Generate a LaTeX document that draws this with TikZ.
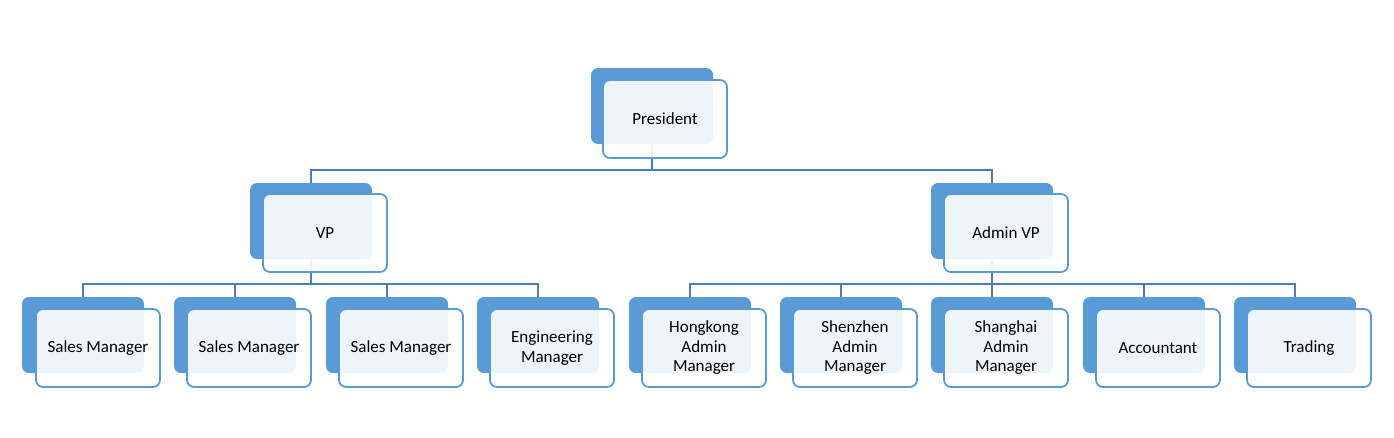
\documentclass[tikz,border=0pt]{standalone}
\usepackage{fontspec}
\setmainfont{Carlito}
\usepackage{tikz}
\usetikzlibrary{positioning}
\definecolor{boxblue}{HTML}{5B9BD5}
\definecolor{lineblue}{HTML}{4A7EBB}

\begin{document}
\begin{tikzpicture}
  [x=1pt,y=-1pt,
   backbox/.style={rectangle,rounded corners=7pt,fill=boxblue,minimum width=122pt,minimum height=76pt,inner sep=0pt},
   frontbox/.style={rectangle,rounded corners=7pt,draw=boxblue,line width=1.8pt,fill=white,fill opacity=0.9,text opacity=1,
                    minimum width=124pt,minimum height=78pt,inner sep=0pt,align=center,font=\fontsize{17}{19.5}\selectfont},
   conn/.style={draw=lineblue,line width=1.6pt}]
  \useasboundingbox (0,0) rectangle (1394,437);

  % back boxes
  \node[backbox] (pres) at (652,106) {};
  \node[backbox] (vp)   at (311,221) {};
  \node[backbox] (avp)  at (992,221) {};
  \node[backbox] (sm1)  at (83,335)  {};
  \node[backbox] (sm2)  at (235,335) {};
  \node[backbox] (sm3)  at (387,335) {};
  \node[backbox] (eng)  at (538,335) {};
  \node[backbox] (hk)   at (690,335) {};
  \node[backbox] (sz)   at (841,335) {};
  \node[backbox] (sh)   at (992,335) {};
  \node[backbox] (acc)  at (1144,335) {};
  \node[backbox] (trd)  at (1295,335) {};

  % connectors
  \draw[conn] (pres.south) -- ++(0,26) -| (vp.north);
  \draw[conn] (pres.south) -- ++(0,26) -| (avp.north);
  \draw[conn] (vp.south) -- ++(0,25) -| (sm1.north);
  \draw[conn] (vp.south) -- ++(0,25) -| (sm2.north);
  \draw[conn] (vp.south) -- ++(0,25) -| (sm3.north);
  \draw[conn] (vp.south) -- ++(0,25) -| (eng.north);
  \draw[conn] (avp.south) -- ++(0,25) -| (hk.north);
  \draw[conn] (avp.south) -- ++(0,25) -| (sz.north);
  \draw[conn] (avp.south) -- ++(0,25) -| (sh.north);
  \draw[conn] (avp.south) -- ++(0,25) -| (acc.north);
  \draw[conn] (avp.south) -- ++(0,25) -| (trd.north);

  % front boxes
  \node[frontbox] (presF) at (665,119)  {President};
  \node[frontbox] (vpF)   at (325,233)  {VP};
  \node[frontbox] (avpF)  at (1006,233) {Admin VP};
  \node[frontbox] (sm1F)  at (98,348)   {Sales Manager};
  \node[frontbox] (sm2F)  at (249,348)  {Sales Manager};
  \node[frontbox] (sm3F)  at (401,348)  {Sales Manager};
  \node[frontbox] (engF)  at (552,348)  {Engineering\\Manager};
  \node[frontbox] (hkF)   at (704,348)  {Hongkong\\Admin\\Manager};
  \node[frontbox] (szF)   at (855,348)  {Shenzhen\\Admin\\Manager};
  \node[frontbox] (shF)   at (1006,348) {Shanghai\\Admin\\Manager};
  \node[frontbox] (accF)  at (1158,348) {Accountant};
  \node[frontbox] (trdF)  at (1309,348) {Trading};
\end{tikzpicture}
\end{document}
